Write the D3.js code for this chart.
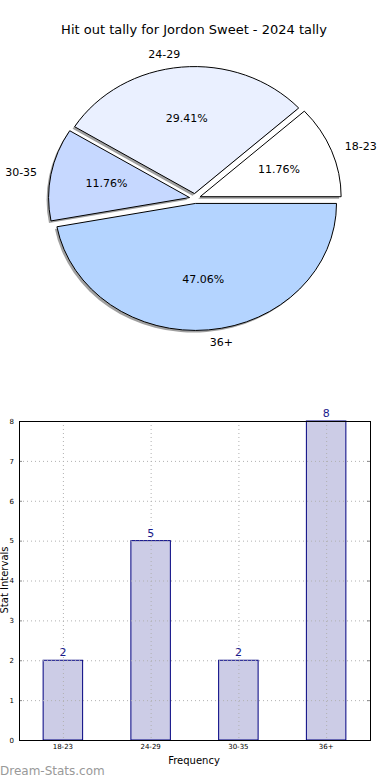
<!DOCTYPE html>
<html>
<head>
<meta charset="utf-8">
<script src="https://cdn.jsdelivr.net/npm/d3@7"></script>
<style>
  body { margin: 0; background: #fff; }
  svg { display: block; font-family: "DejaVu Sans", sans-serif; }
</style>
</head>
<body>
<div id="wrapper"></div>
<script>
const categories = ["18-23", "24-29", "30-35", "36+"];
const tally = [2, 5, 2, 8];
const pieColors = ["#ffffff", "#eaf0ff", "#c6d8ff", "#b4d4ff"];
const yTicks = [0, 1, 2, 3, 4, 5, 6, 7, 8];
const title = "Hit out tally for Jordon Sweet - 2024 tally";

const dimension = { width: 390, height: 780 };

const svg = d3.select("#wrapper").append("svg")
    .attr("width", dimension.width)
    .attr("height", dimension.height);

svg.append("text")
    .attr("x", 194).attr("y", 34)
    .attr("text-anchor", "middle")
    .attr("font-size", "13px")
    .text(title);

// ---- Pie (matplotlib style: counter-clockwise from 3 o'clock, stretched) ----
const pieCenter = { x: 195, y: 198.5 };
const rx = 141, ry = 127, explode = 5.5;
const total = d3.sum(tally);

const pie = d3.pie().sort(null)
    .startAngle(Math.PI / 2)
    .endAngle(Math.PI / 2 - 2 * Math.PI);
const arcs = pie(tally);
const arc = d3.arc().innerRadius(0).outerRadius(rx);

const pieG = svg.append("g")
    .attr("transform", `translate(${pieCenter.x},${pieCenter.y}) scale(1,${ry / rx})`);

const midAngle = d => (d.startAngle + d.endAngle) / 2;
const offset = d => [Math.sin(midAngle(d)) * explode, -Math.cos(midAngle(d)) * explode];

// shadows
pieG.selectAll("path.shadow")
    .data(arcs)
    .join("path")
    .attr("class", "shadow")
    .attr("d", arc)
    .attr("transform", d => `translate(${offset(d)[0] - 2},${offset(d)[1] + 2.4})`)
    .attr("fill", "#808080")
    .attr("opacity", 0.75);

pieG.selectAll("path.wedge")
    .data(arcs)
    .join("path")
    .attr("class", "wedge")
    .attr("d", arc)
    .attr("transform", d => `translate(${offset(d)[0]},${offset(d)[1]})`)
    .attr("fill", (d, i) => pieColors[i])
    .attr("stroke", "#000")
    .attr("stroke-width", 1)
    .attr("vector-effect", "non-scaling-stroke");

// labels
arcs.forEach((d, i) => {
    const a = midAngle(d);
    const ox = pieCenter.x + Math.sin(a) * explode;
    const oy = pieCenter.y - Math.cos(a) * explode * ry / rx;
    const lx = ox + Math.sin(a) * rx * 1.1;
    const ly = oy - Math.cos(a) * ry * 1.1;
    svg.append("text")
        .attr("x", lx).attr("y", ly)
        .attr("dy", "0.35em")
        .attr("font-size", "11px")
        .attr("text-anchor", Math.sin(a) > 0.01 ? "start" : (Math.sin(a) < -0.01 ? "end" : "middle"))
        .text(categories[i]);

    const px = ox + Math.sin(a) * rx * 0.6;
    const py = oy - Math.cos(a) * ry * 0.6;
    svg.append("text")
        .attr("x", px).attr("y", py)
        .attr("dy", "0.35em")
        .attr("font-size", "11px")
        .attr("text-anchor", "middle")
        .text((tally[i] / total * 100).toFixed(2) + "%");
});

// ---- Bar chart ----
const box = { left: 19, right: 370, top: 421, bottom: 740 };

const xScaler = d3.scaleBand()
    .domain(categories)
    .range([box.left, box.right])
    .paddingInner(0.55)
    .paddingOuter(0.275);

const yScaler = d3.scaleLinear()
    .domain([0, 8])
    .range([box.bottom, box.top]);

const bars = svg.append("g");
bars.selectAll("rect")
    .data(tally)
    .join("rect")
    .attr("x", (d, i) => xScaler(categories[i]))
    .attr("y", d => yScaler(d))
    .attr("width", xScaler.bandwidth())
    .attr("height", d => box.bottom - yScaler(d))
    .attr("fill", "#ccccE6")
    .attr("stroke", "#000080")
    .attr("stroke-width", 1);

// grid
const grid = svg.append("g")
    .attr("stroke", "#b0b0b0")
    .attr("stroke-width", 1)
    .attr("stroke-dasharray", "1,3");
grid.selectAll("line.h")
    .data(yTicks.slice(1, -1))
    .join("line")
    .attr("class", "h")
    .attr("x1", box.left).attr("x2", box.right)
    .attr("y1", d => yScaler(d) + 0.5).attr("y2", d => yScaler(d) + 0.5);
grid.selectAll("line.v")
    .data(categories)
    .join("line")
    .attr("class", "v")
    .attr("x1", d => xScaler(d) + xScaler.bandwidth() / 2 + 0.5)
    .attr("x2", d => xScaler(d) + xScaler.bandwidth() / 2 + 0.5)
    .attr("y1", box.top).attr("y2", box.bottom);

// value labels
svg.append("g").selectAll("text")
    .data(tally)
    .join("text")
    .attr("x", (d, i) => xScaler(categories[i]) + xScaler.bandwidth() / 2)
    .attr("y", d => yScaler(d) - 4)
    .attr("text-anchor", "middle")
    .attr("font-size", "11px")
    .attr("fill", "#1a1a8c")
    .text(d => d);

// axes
const yAxisGroup = svg.append("g")
    .attr("transform", `translate(${box.left},0)`)
    .call(d3.axisLeft(yScaler).tickValues(yTicks).tickSize(-3).tickPadding(5).tickFormat(d3.format("d")));
yAxisGroup.select(".domain").remove();
yAxisGroup.selectAll("text").attr("font-size", "7px").attr("font-family", "DejaVu Sans");
yAxisGroup.selectAll("line").attr("stroke", "#888");

const yRight = svg.append("g")
    .attr("transform", `translate(${box.right},0)`)
    .call(d3.axisRight(yScaler).tickValues(yTicks).tickSize(-3).tickFormat(""));
yRight.select(".domain").remove();
yRight.selectAll("line").attr("stroke", "#888");

const xAxisGroup = svg.append("g")
    .attr("transform", `translate(0,${box.bottom})`)
    .call(d3.axisBottom(xScaler).tickSize(0).tickPadding(4));
xAxisGroup.select(".domain").remove();
xAxisGroup.selectAll("text").attr("font-size", "7px").attr("font-family", "DejaVu Sans");

svg.append("rect")
    .attr("x", box.left + 0.5).attr("y", box.top + 0.5)
    .attr("width", box.right - box.left).attr("height", box.bottom - box.top)
    .attr("fill", "none")
    .attr("stroke", "#000")
    .attr("stroke-width", 1);

svg.append("text")
    .attr("x", 194).attr("y", 764)
    .attr("text-anchor", "middle")
    .attr("font-size", "10px")
    .text("Frequency");

svg.append("text")
    .attr("transform", "translate(8,580) rotate(-90)")
    .attr("text-anchor", "middle")
    .attr("font-size", "10px")
    .text("Stat Intervals");

svg.append("text")
    .attr("x", 0).attr("y", 775)
    .attr("font-size", "12px")
    .attr("fill", "#999999")
    .text("Dream-Stats.com");
</script>
</body>
</html>
